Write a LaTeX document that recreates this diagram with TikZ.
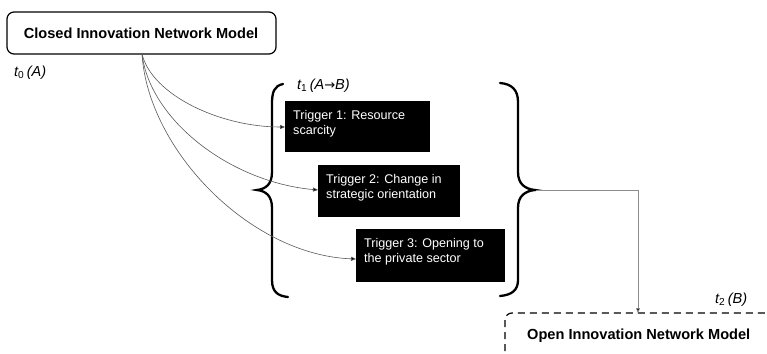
\documentclass[tikz,border=0pt]{standalone}
\usepackage{fontspec}
\setmainfont{Liberation Sans}
\newfontfamily\arrowfont{DejaVu Sans}
\usetikzlibrary{arrows.meta}
\begin{document}
\begin{tikzpicture}[x=1pt,y=-1pt,
  modelfont/.style={font=\bfseries\fontsize{14.6}{16}\selectfont,inner sep=0pt},
  trigtext/.style={text=white,font=\fontsize{12.6}{15.5}\selectfont,align=left,anchor=north west,inner sep=0pt},
  timelabel/.style={font=\fontsize{14.5}{16}\selectfont,inner sep=0pt,anchor=west},
  conn/.style={draw=black!65,line width=0.6pt,-{Triangle[length=5pt,width=4pt,fill=black]}},
  bracepath/.style={draw=black,line width=2.3pt,line cap=round}]
\clip (0,0) rectangle (767,353);
\fill[white] (0,0) rectangle (767,353);

% Closed model
\draw[line width=1.2pt,rounded corners=7pt] (7,12) rectangle (276,54);
\node[modelfont] (closed) at (141,33) {Closed Innovation Network Model};
\coordinate (cstart) at (142,54);

\node[timelabel] (t0) at (14,73) {\itshape t\textsubscript{\upshape 0}\,(A)};

% braces
\draw[bracepath] (283,84) .. controls (274,86) and (272,92) .. (272,104)
  -- (272,172) .. controls (272,184) and (266,189) .. (257,190)
  .. controls (266,191) and (272,196) .. (272,208)
  -- (272,280) .. controls (272,292) and (278,296) .. (288,297);
\draw[bracepath] (500,83) .. controls (512,84) and (518,90) .. (518,102)
  -- (518,172) .. controls (518,184) and (525,189) .. (535,190)
  .. controls (525,191) and (518,196) .. (518,208)
  -- (518,280) .. controls (518,290) and (512,295) .. (500,296);
\coordinate (btip) at (536,190);

\node[timelabel] (t1) at (297,86) {\itshape t\textsubscript{\upshape 1}\,(A{\upshape\arrowfont\fontsize{13}{14}\selectfont\textrightarrow}B)};

% triggers
\fill (285,101) rectangle (430,152);
\node[trigtext] (tr1) at (293,110) {Trigger 1: Resource\\scarcity};
\coordinate (tr1w) at (285,127);
\fill (318,165) rectangle (460,217);
\node[trigtext] (tr2) at (326,174) {Trigger 2: Change in\\strategic orientation};
\coordinate (tr2w) at (318,190);
\fill (356,229) rectangle (505,282);
\node[trigtext] (tr3) at (364,238) {Trigger 3: Opening to\\the private sector};
\coordinate (tr3w) at (356,259);

\draw[conn] (cstart) .. controls (152,95) and (220,127) .. (tr1w);
\draw[conn] (cstart) .. controls (150,120) and (230,182) .. (tr2w);
\draw[conn] (cstart) .. controls (148,150) and (250,255) .. (tr3w);

% open model
\draw[line width=1.2pt,dash pattern=on 7pt off 5pt,rounded corners=7pt] (505,313) rectangle (820,400);
\node[modelfont,anchor=west] (open) at (527,336) {Open Innovation Network Model};
\coordinate (otop) at (638,313);
\draw[draw=black!45,line width=0.7pt,-{Triangle[length=5pt,width=4pt,fill=black]}] (btip) -| (otop);

\node[timelabel] (t2) at (715,300) {\itshape t\textsubscript{\upshape 2}\,(B)};
\end{tikzpicture}
\end{document}
